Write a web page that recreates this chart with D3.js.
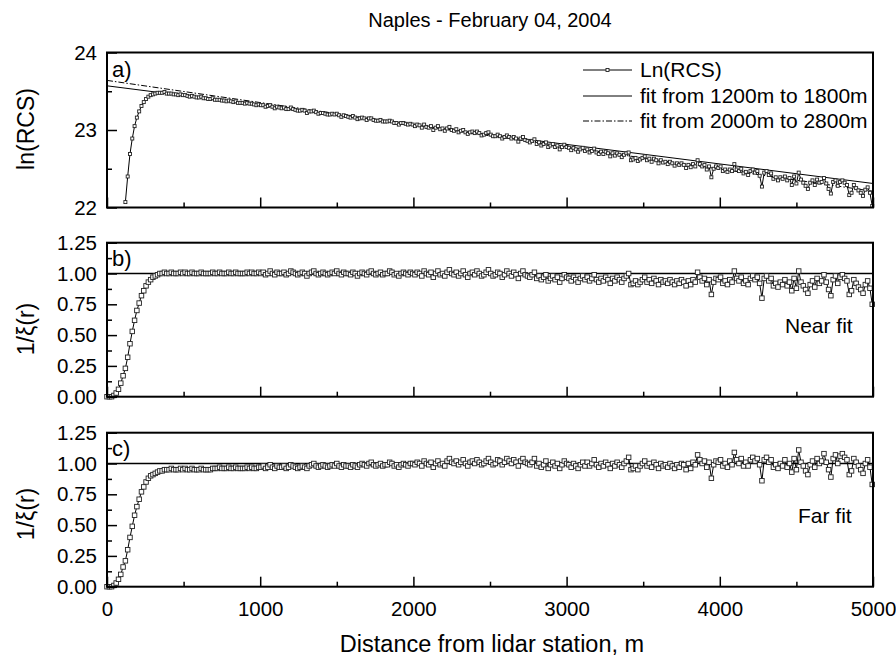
<!DOCTYPE html>
<html>
<head>
<meta charset="utf-8">
<script src="https://cdn.jsdelivr.net/npm/d3@7"></script>
<style>
  body { margin: 0; background: #fff; }
  svg { font-family: "Liberation Sans", Arial, sans-serif; }
</style>
</head>
<body>
<svg id="chart" width="896" height="662"></svg>
<script>
// lidar range bins (m)
const rangeStep = 15;
const lnStart = 120; // first visible ln(RCS) point

// ln(RCS), from 120 m on
const lnRcs = [
  22.07,22.40,22.69,22.89,23.05,23.16,23.24,23.31,23.36,23.40,23.43,23.45,23.46,23.47,23.48,
  23.48,23.48,23.49,23.47,23.47,23.47,23.46,23.46,23.45,23.46,
  23.45,23.45,23.44,23.43,23.44,23.43,23.42,23.42,23.43,23.41,
  23.41,23.40,23.40,23.41,23.39,23.39,23.39,23.38,23.38,23.37,
  23.38,23.37,23.36,23.37,23.35,23.35,23.35,23.34,23.35,23.34,
  23.34,23.33,23.32,23.33,
  23.32,23.32,23.30,23.31,23.32,23.30,23.28,23.30,23.29,23.28,
  23.29,23.27,23.27,23.29,23.27,23.26,23.25,23.25,23.26,23.25,
  23.22,23.24,23.24,23.25,23.23,23.21,23.22,23.22,23.21,23.20,
  23.20,23.21,23.20,23.21,23.19,23.17,23.19,23.18,23.17,23.16,
  23.18,23.16,23.14,23.15,23.16,23.15,23.13,23.15,23.15,23.13,
  23.12,23.12,23.13,23.11,23.11,23.11,23.12,23.11,23.09,23.09,
  23.07,23.09,23.09,23.08,23.07,23.08,23.07,
  23.05,23.07,23.06,23.03,23.07,23.04,23.03,23.05,23.00,23.03,
  23.05,23.01,23.02,22.99,23.02,23.04,23.00,22.99,23.01,22.97,
  22.99,23.00,22.97,22.95,22.97,22.98,22.96,22.98,22.96,22.93,
  22.94,22.96,22.97,22.94,22.92,22.92,22.94,22.92,22.89,22.91,
  22.93,22.91,22.89,22.91,22.89,22.85,22.89,22.91,22.87,22.86,
  22.84,22.86,22.88,22.82,22.84,22.80,22.82,22.84,22.78,22.80,
  22.82,22.78,22.80,22.75,22.78,22.81,22.78,
  22.77,22.74,22.77,22.75,22.72,22.75,22.77,22.73,22.75,22.71,
  22.73,22.76,22.71,22.69,22.72,22.69,22.72,22.70,22.66,22.70,
  22.67,22.70,22.68,22.65,22.68,22.70,22.71,22.61,22.62,22.64,
  22.60,22.62,22.64,22.66,22.61,22.63,22.59,22.63,22.61,22.57,
  22.61,22.58,22.59,22.56,22.59,22.57,22.54,22.57,22.55,22.57,
  22.55,22.51,22.55,22.52,22.56,22.53,22.61,22.56,22.53,22.55,
  22.49,22.53,22.39,22.50,22.53,22.51,22.53,22.47,22.49,22.46,
  22.49,22.47,22.56,22.49,22.47,22.50,22.44,22.46,22.42,22.47,
  22.49,22.45,22.47,22.41,22.27,22.45,22.47,22.42,22.44,22.37,
  22.39,22.35,22.39,22.37,22.40,22.35,22.38,22.29,22.40,22.31,
  22.45,22.36,22.32,22.28,22.24,22.32,22.35,22.29,22.36,22.32,
  22.33,22.38,22.31,22.24,22.18,22.33,22.35,22.28,22.33,22.35,
  22.32,22.29,22.16,22.19,22.29,22.25,22.22,22.19,22.15,22.23,
  22.26,22.19,22.02
];

// 1/xi(r) with the near fit, in percent, from 0 m
const nearPct = [
  0,0,0,1,3,6,11,17,23,32,43,53,62,70,76,82,86,90,93,95,97,98,99,
  100,100,101,100,100,101,100,100,100,101,
  100,101,100,100,101,100,100,100,101,100,
  100,100,100,101,100,100,101,100,100,100,
  101,100,100,101,100,100,100,100,101,100,
  101,100,100,101,
  100,101,99,100,102,100,99,101,100,100,
  101,99,100,102,101,100,99,100,101,100,
  98,100,101,102,100,99,100,101,100,99,
  100,101,100,102,100,99,101,100,100,99,
  101,100,98,100,101,100,99,101,102,100,
  99,100,101,99,100,100,102,101,99,100,
  98,100,101,100,99,101,100,
  99,101,100,98,102,100,99,101,97,100,
  102,99,100,98,101,103,100,99,101,98,
  100,102,99,97,100,101,99,102,100,98,
  99,101,103,100,98,99,101,100,97,99,
  102,100,98,101,99,96,100,102,99,98,
  97,99,101,96,98,95,97,99,94,96,
  98,95,97,93,96,99,97,
  96,94,97,95,93,96,98,95,97,94,
  96,99,95,93,96,94,97,95,92,96,
  94,97,95,93,96,98,100,91,92,94,
  91,93,95,97,93,95,92,96,94,91,
  95,93,94,92,95,93,91,94,92,95,
  93,90,94,91,95,93,101,97,94,96,
  91,95,83,93,96,95,97,92,94,91,
  95,93,102,96,94,97,92,94,91,96,
  98,95,97,92,80,96,98,94,96,90,
  92,89,93,91,95,90,93,86,96,88,
  102,93,90,87,84,91,94,89,96,92,
  94,99,93,87,82,95,98,92,97,99,
  96,94,83,86,95,92,89,87,84,91,
  94,88,75
];

// 1/xi(r) with the far fit, in percent, from 0 m
const farPct = [
  0,0,0,1,3,6,10,16,21,30,40,49,58,65,71,77,81,85,88,90,91,92,93,
  94,94,95,95,95,96,95,95,95,96,
  95,96,95,95,96,95,95,95,96,95,
  95,95,95,96,96,96,97,96,96,96,
  97,96,96,97,96,96,96,96,97,96,
  97,96,96,97,
  97,98,96,97,99,97,96,98,97,97,
  98,96,97,99,98,97,96,97,98,97,
  96,98,99,100,98,97,98,99,98,97,
  98,99,98,100,98,97,99,98,98,97,
  99,98,97,99,100,99,98,100,101,99,
  98,99,100,98,99,99,101,100,98,99,
  97,99,100,99,98,100,100,
  99,101,100,98,102,100,99,101,97,100,
  102,99,100,98,102,104,101,100,102,99,
  101,103,100,98,101,102,100,103,101,99,
  100,102,104,101,99,100,103,102,99,101,
  104,102,100,103,101,98,102,104,101,100,
  99,101,104,98,100,97,99,102,96,99,
  101,98,100,96,99,102,100,
  99,97,100,98,96,99,101,98,101,98,
  100,103,99,97,100,98,101,99,96,100,
  98,101,99,97,100,102,105,95,96,98,
  95,98,100,102,98,100,97,101,99,96,
  100,98,99,97,100,98,96,99,97,100,
  99,95,100,96,101,99,107,103,100,102,
  97,101,88,99,102,101,103,98,100,97,
  102,99,109,103,100,104,98,101,98,103,
  105,102,104,99,86,103,105,101,103,97,
  99,96,100,98,103,97,100,93,104,95,
  111,101,98,94,91,99,102,97,104,100,
  102,108,101,95,89,104,107,100,106,108,
  105,103,91,94,104,101,98,95,92,100,
  103,97,83
];

// linear fits of ln(RCS): [range, value] at the ends
const nearFit = [[0, 23.57], [5000, 22.31]];
const farFit = [[0, 23.64], [5000, 22.21]];

const xMajor = [0, 1000, 2000, 3000, 4000, 5000];
const xMinor = [500, 1500, 2500, 3500, 4500];
const lnMajor = [22, 23, 24];
const lnMinor = [22.5, 23.5];
const ratioMajor = [0, 0.25, 0.5, 0.75, 1, 1.25];
const ratioMinor = [0.125, 0.375, 0.625, 0.875, 1.125];

const legendLabels = ["Ln(RCS)", "fit from 1200m to 1800m", "fit from 2000m to 2800m"];

const font = '"Liberation Sans", Arial, sans-serif';
const svg = d3.select("#chart");

const x = d3.scaleLinear().domain([0, 5000]).range([107, 873]);

function styleAxis(g) {
  g.select(".domain").remove();
  g.selectAll(".tick line").attr("stroke", "#000").attr("stroke-width", 1.5);
  g.selectAll(".tick text")
    .attr("fill", "#000")
    .attr("font-size", 20.5)
    .attr("font-family", font);
}

function drawFrame(y, major, minor, fmt, xLabels) {
  const bottom = y.range()[0], top = y.range()[1];

  svg.append("g")
    .attr("transform", `translate(0,${bottom})`)
    .call(d3.axisBottom(x).tickValues(xMajor).tickSizeInner(-10).tickSizeOuter(0)
      .tickPadding(15).tickFormat(xLabels ? d3.format("d") : ""))
    .call(styleAxis);
  svg.append("g")
    .attr("transform", `translate(0,${bottom})`)
    .call(d3.axisBottom(x).tickValues(xMinor).tickSizeInner(-5).tickSizeOuter(0).tickFormat(""))
    .call(styleAxis);

  svg.append("g")
    .attr("transform", "translate(107,0)")
    .call(d3.axisLeft(y).tickValues(major).tickSizeInner(-10).tickSizeOuter(0)
      .tickPadding(10).tickFormat(fmt))
    .call(styleAxis);
  svg.append("g")
    .attr("transform", "translate(107,0)")
    .call(d3.axisLeft(y).tickValues(minor).tickSizeInner(-5).tickSizeOuter(0).tickFormat(""))
    .call(styleAxis);

  svg.append("rect")
    .attr("x", x(0))
    .attr("y", top)
    .attr("width", x(5000) - x(0))
    .attr("height", bottom - top)
    .attr("fill", "none")
    .attr("stroke", "#000")
    .attr("stroke-width", 2);
}

function drawSeries(y, pts, size) {
  svg.append("path")
    .datum(pts)
    .attr("fill", "none")
    .attr("stroke", "#000")
    .attr("stroke-width", 1)
    .attr("d", d3.line().x(d => x(d[0])).y(d => y(d[1])));
  svg.append("g")
    .selectAll("rect")
    .data(pts)
    .join("rect")
    .attr("x", d => x(d[0]) - size / 2)
    .attr("y", d => y(d[1]) - size / 2)
    .attr("width", size)
    .attr("height", size)
    .attr("fill", "#fff")
    .attr("stroke", "#222")
    .attr("stroke-width", 0.9);
}

function addText(txt, px, py, size, anchor) {
  return svg.append("text")
    .attr("x", px)
    .attr("y", py)
    .attr("font-size", size)
    .attr("font-family", font)
    .attr("text-anchor", anchor || "start")
    .attr("fill", "#000")
    .text(txt);
}

// ---- panel a: ln(RCS)
const yA = d3.scaleLinear().domain([22, 24]).range([207.5, 52.5]);
const lnPts = lnRcs.map((v, i) => [lnStart + i * rangeStep, v]);

svg.append("path")
  .datum(nearFit)
  .attr("fill", "none")
  .attr("stroke", "#000")
  .attr("stroke-width", 1)
  .attr("d", d3.line().x(d => x(d[0])).y(d => yA(d[1])));
svg.append("path")
  .datum(farFit)
  .attr("fill", "none")
  .attr("stroke", "#000")
  .attr("stroke-width", 1)
  .attr("stroke-dasharray", "6,2,1.5,2")
  .attr("d", d3.line().x(d => x(d[0])).y(d => yA(d[1])));
drawSeries(yA, lnPts, 3);
drawFrame(yA, lnMajor, lnMinor, d3.format("d"), false);

// legend
const legY = [70, 96, 121];
legendLabels.forEach((lab, i) => {
  const ln = svg.append("line")
    .attr("x1", 583).attr("x2", 632)
    .attr("y1", legY[i]).attr("y2", legY[i])
    .attr("stroke", "#000").attr("stroke-width", 1);
  if (i === 2) ln.attr("stroke-dasharray", "6,2,1.5,2");
  if (i === 0) {
    svg.append("rect")
      .attr("x", 606).attr("y", legY[i] - 1.5)
      .attr("width", 3).attr("height", 3)
      .attr("fill", "#fff").attr("stroke", "#222").attr("stroke-width", 0.9);
  }
  addText(lab, 640, legY[i], 21).attr("dy", "0.35em");
});

// ---- panels b and c: 1/xi(r)
const yB = d3.scaleLinear().domain([0, 1.25]).range([396.7, 242.7]);
const yC = d3.scaleLinear().domain([0, 1.25]).range([586.7, 432.7]);

[[yB, nearPct], [yC, farPct]].forEach(([y, arr]) => {
  svg.append("line")
    .attr("x1", x(0)).attr("x2", x(5000))
    .attr("y1", y(1)).attr("y2", y(1))
    .attr("stroke", "#000").attr("stroke-width", 1.3);
  drawSeries(y, arr.map((v, i) => [i * rangeStep, v / 100]), 4.5);
});
drawFrame(yB, ratioMajor, ratioMinor, d3.format(".2f"), false);
drawFrame(yC, ratioMajor, ratioMinor, d3.format(".2f"), true);

// panel tags and notes
addText("a)", 112, 77, 22);
addText("b)", 112, 266, 22);
addText("c)", 112, 456, 22);
addText("Near fit", 785, 333, 21);
addText("Far fit", 798, 523, 21);

// titles
addText("Naples - February 04, 2004", 490, 27, 20, "middle");
addText("Distance from lidar station, m", 492, 652, 23.5, "middle");
[["ln(RCS)", 129], ["1/\u03BE(r)", 329], ["1/\u03BE(r)", 514]].forEach(([lab, cy]) => {
  addText(lab, 0, 0, 23, "middle")
    .attr("transform", `translate(34,${cy}) rotate(-90)`);
});
</script>
</body>
</html>
